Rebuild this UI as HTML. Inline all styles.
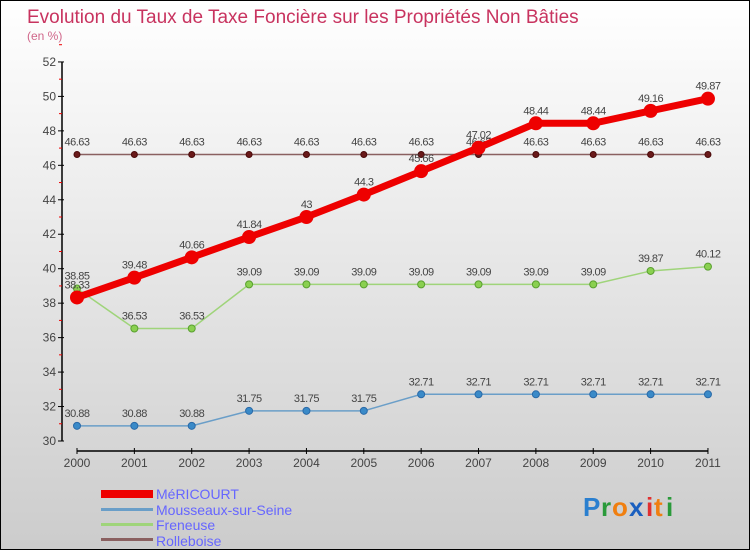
<!DOCTYPE html>
<html><head><meta charset="utf-8"><style>
body{margin:0;}
#c{width:748px;height:548px;border:1px solid #000;background:linear-gradient(#fff,#ccc);position:relative;overflow:hidden;font-family:"Liberation Sans",sans-serif;}
svg text{font-family:"Liberation Sans",sans-serif;}
</style></head><body>
<div id="c">
<svg id="s" width="748" height="548" xmlns="http://www.w3.org/2000/svg">
<text x="26" y="22" font-size="19" fill="#c8335f">Evolution du Taux de Taxe Foncière sur les Propriétés Non Bâties</text>
<text x="26" y="39" font-size="12" fill="#d0668a">(en %)</text>
<g id="axes"></g><g id="series"></g>
<g>
<rect x="100" y="489" width="52" height="8" fill="#e00"/>
<text x="155" y="498" font-size="14" fill="#66f">MéRICOURT</text>
<rect x="100" y="507" width="52" height="3" fill="#6a9ec8"/>
<text x="155" y="514" font-size="14" fill="#66f">Mousseaux-sur-Seine</text>
<rect x="100" y="522" width="52" height="3" fill="#9fd47a"/>
<text x="155" y="529" font-size="14" fill="#66f">Freneuse</text>
<rect x="100" y="537" width="52" height="3" fill="#8a6060"/>
<text x="155" y="545" font-size="14" fill="#66f">Rolleboise</text>
</g>
<g font-size="26" font-weight="bold">
<text x="582" y="515" fill="#2a7fcf">P</text><text x="600" y="515" fill="#2a9a3a">r</text><text x="611" y="515" fill="#f07f10">o</text><text x="628" y="515" fill="#1a5fbf">x</text><text x="645" y="515" fill="#e03030">i</text><text x="653" y="515" fill="#f07f10">t</text><text x="665" y="515" fill="#2a9a3a">i</text>
</g>
</svg></div>
<script>
const years=[2000,2001,2002,2003,2004,2005,2006,2007,2008,2009,2010,2011];
const yTicks=[30,32,34,36,38,40,42,44,46,48,50,52];
const mericourt=[38.33,39.48,40.66,41.84,43,44.3,45.66,47.02,48.44,48.44,49.16,49.87];
const mousseaux=[30.88,30.88,30.88,31.75,31.75,31.75,32.71,32.71,32.71,32.71,32.71,32.71];
const freneuse=[38.85,36.53,36.53,39.09,39.09,39.09,39.09,39.09,39.09,39.09,39.87,40.12];
const rolleboise=[46.63,46.63,46.63,46.63,46.63,46.63,46.63,46.63,46.63,46.63,46.63,46.63];
const NS="http://www.w3.org/2000/svg";
const X=i=>76+i*57.36;
const Y=v=>440-(v-30)*17.23;
function mk(t,a,p){const e=document.createElementNS(NS,t);for(const k in a)e.setAttribute(k,a[k]);p.appendChild(e);return e;}
const ax=document.getElementById('axes');
const yl=mk('line',{x1:61,y1:Y(52),x2:61,y2:440,stroke:'#000','stroke-width':1.5},ax);


yTicks.forEach(v=>{
 mk('line',{x1:57,y1:Y(v),x2:63,y2:Y(v),stroke:'#000'},ax);
 mk('line',{x1:58,y1:Y(v+1),x2:61,y2:Y(v+1),stroke:'#e00'},ax);
 const t=mk('text',{x:55,y:Y(v)+4,'font-size':12,fill:'#444','text-anchor':'end'},ax);t.textContent=v;
 
 
});
const xl=mk('line',{x1:76,y1:450,x2:X(11),y2:450,stroke:'#000','stroke-width':1.5},ax);


years.forEach((y,i)=>{
 mk('line',{x1:X(i),y1:447,x2:X(i),y2:453,stroke:'#000'},ax);
 const t=mk('text',{x:X(i),y:466,'font-size':12,fill:'#444','text-anchor':'middle'},ax);t.textContent=y;
 
 
});
const sg=document.getElementById('series');
function series(d,name,col,w,r,fill,dot){
 const g=mk('g',{},sg);
 
 
 mk('polyline',{points:d.map((v,i)=>X(i)+','+Y(v)).join(' '),fill:'none',stroke:col,'stroke-width':w},g);
 d.forEach((v,i)=>{
  const c=mk('circle',{cx:X(i),cy:Y(v),r:r,fill:fill,stroke:dot,'stroke-width':1},g);
  
  
  const t=mk('text',{x:X(i),y:Y(v)-9,'font-size':11,fill:'#444','text-anchor':'middle','letter-spacing':'-0.5'},g);
  t.textContent=String(v).replace('.','');
  t.textContent=String(v);
  
  
 });
}
series(rolleboise,'rolleboise','#8a6060',1.5,3,'#6a1a1a','#4a0a0a');
series(mousseaux,'mousseaux','#6a9ec8',1.5,3.5,'#3a8ac8','#2a6aa8');
series(freneuse,'freneuse','#9fd47a',1.5,3.5,'#8ad050','#5aa030');
series(mericourt,'mericourt','#e00',7,6.5,'#e00','#e00');
</script>
</body></html>
